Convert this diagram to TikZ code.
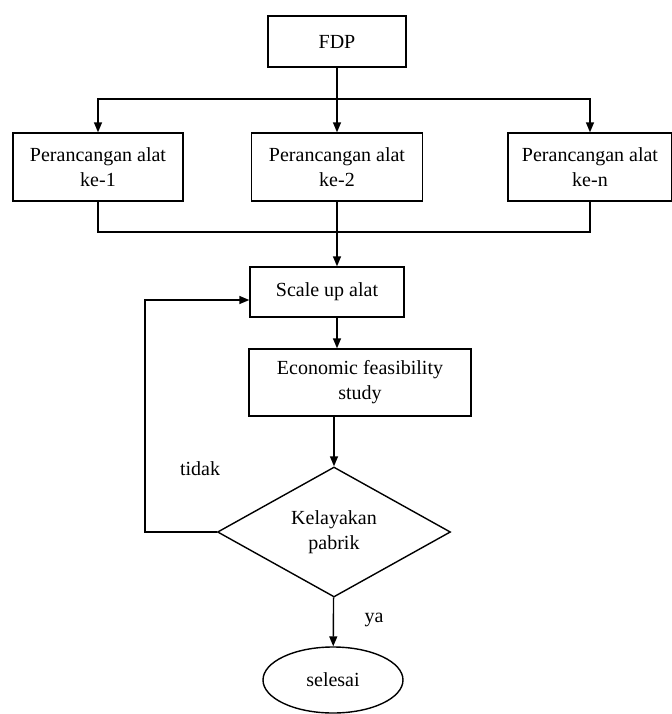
\documentclass[tikz,border=0pt]{standalone}
\usepackage{fontspec}
\setmainfont{Liberation Serif}
\usetikzlibrary{shapes.geometric,arrows.meta}

\begin{document}
\begin{tikzpicture}[x=0.5pt,y=-0.5pt,
    line width=0.7pt,
    txt/.style={font=\fontsize{10}{12.5}\selectfont},
    box/.style={txt, draw, rectangle, align=center, inner sep=0pt},
    flow/.style={-{Triangle[length=5pt,width=4pt]}}]

    % \draw [help lines, step = 50] (0,0) grid (672,714);
    \useasboundingbox (0,0) rectangle (672,714);

    % top
    \node [box, minimum width=69pt, minimum height=25.5pt] (fdp) at (337,41.5) {FDP};

    % alat
    \node [box, minimum width=85pt, minimum height=34pt] (alat1) at (98,167) {Perancangan alat\\ke-1};
    \node [box, minimum width=85.5pt, minimum height=34pt] (alat2) at (337,167) {Perancangan alat\\ke-2};
    \node [box, minimum width=82pt, minimum height=34pt] (alatn) at (590,167) {Perancangan alat\\ke-n};

    % process
    \node [box, minimum width=77pt, minimum height=25pt] (scale) at (327,292) {Scale up alat};
    \node [box, minimum width=111pt, minimum height=33.5pt] (econ) at (360,382.5) {Economic feasibility\\study};

    % decision
    \node [txt, draw, diamond, aspect=1.8, align=center, inner sep=0pt,
           minimum width=116.5pt, minimum height=65pt] (dia) at (334,532) {Kelayakan\\pabrik};
    \node [txt, draw, ellipse, inner sep=0pt, minimum width=70pt, minimum height=33pt] (end) at (333,680) {selesai};

    \node [txt] (tidak) at (200,469) {tidak};
    \node [txt] (ya) at (374,620) {ya};

    \coordinate (split) at (337,99);
    \coordinate (join) at (337,232);
    \coordinate (back) at (145,300);

    \draw (fdp) -- (split);
    \draw [flow] (split) -- (alat2);
    \draw [flow] (split) -| (alat1);
    \draw [flow] (split) -| (alatn);

    \draw (alat1) |- (join);
    \draw (alatn) |- (join);
    \draw [flow] (alat2) -- (alat2.south |- scale.north);

    \draw [flow] (alat2.south |- scale.south) -- (alat2.south |- econ.north);
    \draw [flow] (dia.north |- econ.south) -- (dia);
    \draw [flow] (dia) -- (end);

    \draw [flow] (dia.west) -| (back) -- (back -| scale.west);

\end{tikzpicture}
\end{document}
